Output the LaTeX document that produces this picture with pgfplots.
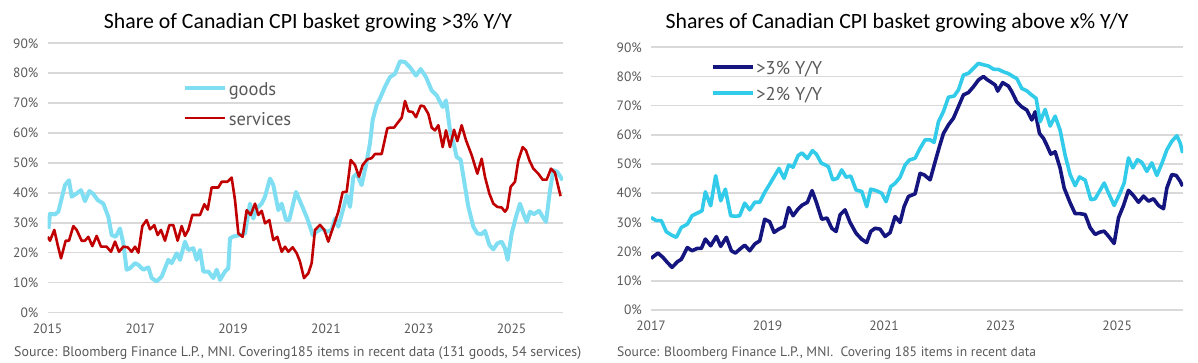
\documentclass[border=0pt]{standalone}
\usepackage{pgfplots}
\pgfplotsset{compat=1.18}
\usepackage{fontspec}
\setmainfont{PT Sans}
\newfontfamily\titlefont{Carlito}
\definecolor{goodsc}{HTML}{80DEF2}
\definecolor{servc}{HTML}{C00000}
\definecolor{navyc}{HTML}{15157F}
\definecolor{cyanc}{HTML}{33CBEA}
\definecolor{gridc}{HTML}{D9D9D9}
\definecolor{textc}{HTML}{595959}
\begin{document}
\begin{tikzpicture}
\useasboundingbox (0pt,0pt) rectangle (1198pt,363pt);
\pgfplotsset{myax/.style={scale only axis, axis line style={draw=none}, tick style={draw=none}, major tick length=0pt,
  ymin=0, ymax=90, ytick={0,10,...,90}, yticklabels={0\%,10\%,20\%,30\%,40\%,50\%,60\%,70\%,80\%,90\%},
  ymajorgrids, grid style={gridc, line width=1.6pt},
  tick label style={font=\fontsize{13.5}{14}\selectfont, text=textc, inner sep=0pt},
  yticklabel style={anchor=east, xshift=-9pt}, xticklabel style={anchor=north, yshift=-11pt},
  legend cell align=left,
  legend image code/.code={\path (0pt,0pt); \draw[##1] (0pt,5pt) -- (40pt,5pt);},
}}
% ---------------- left panel
\begin{axis}[myax, at={(47.5pt,50.5pt)}, anchor=south west, width=515.5pt, height=269.2pt,
  xmin=2015, xmax=2026.11, xtick={2015,2017,2019,2021,2023,2025}, xticklabels={2015,2017,2019,2021,2023,2025},
  legend style={at={(0.262,0.872)}, anchor=north west, draw=none, fill=none, font=\fontsize{18.5}{19}\selectfont, text=textc, inner sep=0pt, nodes={inner sep=2pt, text height=0.75em, text depth=0.25em, minimum height=30pt}}]
\addplot[goodsc, line width=4pt, line join=round] coordinates {
(2015.02,28)(2015.054,33)(2015.162,32.8)(2015.233,33.7)(2015.305,38.1)(2015.377,42.6)(2015.463,44.2)(2015.521,38.7)(2015.629,39.8)(2015.722,40.9)(2015.808,37.2)(2015.902,40.6)(2015.988,39.6)(2016.081,37.6)(2016.203,36.4)(2016.311,32)(2016.383,25.9)(2016.469,25.3)(2016.563,28.1)(2016.634,23.1)(2016.706,14.3)(2016.778,14.8)(2016.886,16.5)(2016.958,15.9)(2017.065,14.3)(2017.173,15.1)(2017.245,11.5)(2017.353,10.4)(2017.461,12)(2017.532,14.8)(2017.604,17.6)(2017.676,16.5)(2017.784,19.8)(2017.856,17.6)(2017.963,23.7)(2018.035,20.9)(2018.143,21.5)(2018.215,17.6)(2018.287,20.9)(2018.358,13.7)(2018.466,13.7)(2018.574,11.5)(2018.646,14.3)(2018.718,10.9)(2018.825,13.7)(2018.897,14.8)(2018.933,24.8)(2019.005,25.4)(2019.149,25.9)(2019.256,26.4)(2019.364,36.4)(2019.436,31.4)(2019.508,34.8)(2019.616,36.4)(2019.687,38.7)(2019.795,44.8)(2019.867,42.6)(2019.975,34.2)(2020.047,36.4)(2020.14,30.9)(2020.21,30.9)(2020.356,40.3)(2020.478,35.9)(2020.6,31.4)(2020.715,25.9)(2020.80,27)(2020.91,28.1)(2021.017,27)(2021.125,27.6)(2021.196,31.4)(2021.268,28.7)(2021.376,34.8)(2021.448,39.2)(2021.52,35.3)(2021.591,45.3)(2021.663,46.4)(2021.77,42.6)(2021.864,49.3)(2021.95,56.6)(2022.008,64.4)(2022.094,69.4)(2022.166,71.6)(2022.274,75.5)(2022.381,78.7)(2022.489,79.8)(2022.597,84)(2022.705,83.7)(2022.812,82)(2022.942,79.2)(2023.042,81.4)(2023.157,78.7)(2023.280,74.2)(2023.387,72.6)(2023.517,68.7)(2023.588,70.9)(2023.675,60.9)(2023.746,57)(2023.818,52)(2023.904,51.1)(2023.976,44.2)(2024.070,35.3)(2024.177,28.7)(2024.264,26.4)(2024.357,26.2)(2024.429,27.3)(2024.522,22.6)(2024.608,21.1)(2024.695,23.1)(2024.788,23.7)(2024.860,21.4)(2024.917,17.6)(2025.004,26.4)(2025.097,32)(2025.183,36.4)(2025.255,33.1)(2025.327,30.3)(2025.399,33.7)(2025.485,32.9)(2025.593,34)(2025.672,32)(2025.744,30.3)(2025.830,40.9)(2025.902,47.6)(2025.988,47)(2026.103,44.2)
};
\addlegendentry{goods}
\addplot[servc, line width=2.6pt, line join=round] coordinates {
(2015.004,25.3)(2015.054,24)(2015.147,27.6)(2015.219,22.6)(2015.291,18.1)(2015.392,24)(2015.463,24)(2015.557,28.9)(2015.629,27.6)(2015.736,24)(2015.808,24)(2015.880,25.3)(2015.966,22.2)(2016.060,25.6)(2016.153,22)(2016.275,22)(2016.369,20.3)(2016.455,23.7)(2016.541,20.3)(2016.634,22)(2016.728,21.8)(2016.814,20.3)(2016.886,22)(2016.958,20)(2017.044,28.9)(2017.137,30.9)(2017.209,27.8)(2017.302,29.2)(2017.374,25.9)(2017.446,27.6)(2017.532,24)(2017.626,29.2)(2017.712,29.2)(2017.805,24)(2017.892,28.9)(2017.963,25.6)(2018.035,27.6)(2018.121,32.6)(2018.287,32.6)(2018.380,36.2)(2018.452,34.4)(2018.538,41.8)(2018.682,41.8)(2018.754,43.7)(2018.876,43.7)(2018.969,45.1)(2019.041,37.6)(2019.113,26.4)(2019.206,25.3)(2019.292,34.2)(2019.378,32.6)(2019.472,36.4)(2019.544,32.6)(2019.616,34)(2019.688,29.8)(2019.781,30.9)(2019.867,24.2)(2019.953,25.3)(2020.047,20.3)(2020.119,22)(2020.190,20.3)(2020.284,21.8)(2020.370,19.8)(2020.442,17)(2020.528,11.5)(2020.621,13.1)(2020.693,16.5)(2020.765,27.6)(2020.873,29.3)(2020.966,27.6)(2021.052,23.7)(2021.160,28.7)(2021.268,33.7)(2021.361,40.2)(2021.448,40.4)(2021.534,51)(2021.627,49.3)(2021.713,45.4)(2021.792,49.3)(2021.893,51.2)(2021.986,51.6)(2022.058,53)(2022.202,53)(2022.324,61.6)(2022.381,61.8)(2022.468,61.8)(2022.561,63.7)(2022.633,65.1)(2022.705,70.7)(2022.777,67.3)(2022.870,67)(2022.942,65.3)(2023.042,69.2)(2023.114,68.9)(2023.208,66.4)(2023.280,61.8)(2023.351,60.9)(2023.423,62.6)(2023.517,55.3)(2023.588,60.9)(2023.675,55.3)(2023.761,61.1)(2023.833,57.3)(2023.926,62.6)(2024.019,57.6)(2024.142,52.6)(2024.264,46.4)(2024.357,51.4)(2024.429,45.3)(2024.522,39.8)(2024.608,36.4)(2024.695,35.3)(2024.788,35.1)(2024.860,33.7)(2024.910,34.8)(2024.982,42)(2025.075,43.7)(2025.147,50.9)(2025.241,55.3)(2025.312,54.2)(2025.384,50.9)(2025.470,48.1)(2025.578,46.4)(2025.672,44.4)(2025.758,44.4)(2025.851,48.1)(2025.937,46.7)(2026.009,42)(2026.057,38.9)
};
\addlegendentry{services}
\end{axis}
% ---------------- right panel
\begin{axis}[myax, at={(651pt,53pt)}, anchor=south west, width=532pt, height=262.7pt,
  xmin=2017, xmax=2026.13, xtick={2017,2019,2021,2023,2025}, xticklabels={2017,2019,2021,2023,2025},
  legend style={at={(0.112,0.957)}, anchor=north west, draw=none, fill=none, font=\fontsize{18.5}{19}\selectfont, text=textc, inner sep=0pt, nodes={inner sep=2pt, text height=0.75em, text depth=0.25em, minimum height=26pt}}]
\addplot[navyc, line width=3.6pt, line join=round] coordinates {
(2017.0,17.7)(2017.120,19.5)(2017.206,18)(2017.280,16.3)(2017.361,14.6)(2017.452,16.5)(2017.521,17.4)(2017.624,21.4)(2017.704,20.3)(2017.795,21.1)(2017.864,21.1)(2017.933,24.3)(2018.024,22)(2018.122,25.2)(2018.196,21.8)(2018.293,24.9)(2018.379,20.3)(2018.448,19.5)(2018.539,21.1)(2018.608,22.2)(2018.694,20.3)(2018.780,22.6)(2018.866,23.7)(2018.951,31.1)(2019.037,30.2)(2019.112,26.6)(2019.192,27.7)(2019.283,28.6)(2019.363,35.1)(2019.438,32.3)(2019.524,34.6)(2019.592,35.9)(2019.684,36.9)(2019.764,40.9)(2019.838,36.9)(2019.93,31.1)(2020.02,31.5)(2020.102,28)(2020.176,26.9)(2020.245,32.6)(2020.330,34.3)(2020.416,30)(2020.519,26.3)(2020.617,24.2)(2020.702,23.1)(2020.771,26.9)(2020.845,28)(2020.931,27.7)(2021.017,25.2)(2021.103,26.5)(2021.189,32)(2021.275,30)(2021.343,35.4)(2021.418,38.9)(2021.532,39.8)(2021.618,46.8)(2021.687,46.3)(2021.790,44.6)(2021.876,50.8)(2021.950,56)(2022.019,60.5)(2022.104,63.4)(2022.190,65.7)(2022.276,69.7)(2022.362,73.7)(2022.448,74.5)(2022.534,76.5)(2022.619,78.8)(2022.705,80)(2022.763,79)(2022.848,77.9)(2022.906,77.1)(2022.95,75)(2023.035,77.9)(2023.134,76.7)(2023.192,74.8)(2023.277,71.3)(2023.363,69.6)(2023.449,68.5)(2023.535,65.1)(2023.592,67.9)(2023.667,60.5)(2023.735,58.8)(2023.792,56.5)(2023.861,53.4)(2023.936,54.2)(2024.021,48.6)(2024.090,41.8)(2024.193,36.7)(2024.279,33)(2024.365,33)(2024.451,32.7)(2024.536,28.2)(2024.622,25.9)(2024.708,26.7)(2024.777,27)(2024.851,25.3)(2024.948,22.8)(2025.023,31.6)(2025.109,35.8)(2025.194,41)(2025.280,39.2)(2025.366,36.9)(2025.452,39)(2025.538,37.3)(2025.624,38.1)(2025.710,35.8)(2025.795,34.7)(2025.853,41.8)(2025.938,46.4)(2026.013,46.1)(2026.082,44.1)(2026.125,42.4)
};
\addlegendentry{>3\% Y/Y}
\addplot[cyanc, line width=3.6pt, line join=round] coordinates {
(2017.0,31.7)(2017.092,30.6)(2017.177,30.6)(2017.263,26.8)(2017.349,25.7)(2017.435,24.9)(2017.521,28.3)(2017.624,29.4)(2017.704,32.3)(2017.795,33.2)(2017.876,34)(2017.933,40.5)(2018.024,35.7)(2018.110,46)(2018.196,37.4)(2018.276,41.4)(2018.368,32.3)(2018.448,32.1)(2018.522,32.3)(2018.608,36.6)(2018.694,34.3)(2018.780,36.9)(2018.866,36.9)(2018.951,40.3)(2019.037,43.1)(2019.123,46)(2019.197,48.5)(2019.283,45.1)(2019.363,49.7)(2019.438,48.9)(2019.524,52.9)(2019.592,53.8)(2019.684,51.9)(2019.770,54.6)(2019.838,53.4)(2019.924,50.3)(2019.99,49.7)(2020.044,49.1)(2020.119,44.6)(2020.199,45.1)(2020.273,48)(2020.348,45.5)(2020.428,45.9)(2020.519,41.1)(2020.617,40.6)(2020.702,35.4)(2020.771,41.4)(2020.863,40.9)(2020.960,40)(2021.034,37.1)(2021.115,42.3)(2021.189,43.4)(2021.275,45.5)(2021.361,49.7)(2021.435,51.4)(2021.532,52)(2021.618,55.4)(2021.704,58.3)(2021.790,58.3)(2021.858,57.4)(2021.933,64.5)(2022.019,68)(2022.104,72.9)(2022.202,73.3)(2022.276,75.4)(2022.362,80.5)(2022.448,81.1)(2022.534,82.8)(2022.619,84.5)(2022.705,84)(2022.791,83.6)(2022.877,82.5)(2022.963,82.4)(2023.049,81.6)(2023.134,81)(2023.220,79.9)(2023.277,79.3)(2023.363,75.9)(2023.449,75.1)(2023.535,73.6)(2023.609,72.5)(2023.678,64.5)(2023.764,68.7)(2023.850,63)(2023.936,66.4)(2024.021,61.6)(2024.107,53)(2024.193,46.4)(2024.279,42.6)(2024.353,45.6)(2024.451,44.5)(2024.548,37.8)(2024.622,38.1)(2024.697,40.7)(2024.777,43.5)(2024.851,40.1)(2024.948,35.8)(2025.040,39.6)(2025.120,43.5)(2025.194,52.1)(2025.269,48.7)(2025.349,51.5)(2025.423,50.6)(2025.509,47.5)(2025.595,50.4)(2025.681,46.1)(2025.767,50.2)(2025.853,54.9)(2025.938,57.8)(2026.024,59.7)(2026.082,57.2)(2026.125,53.8)
};
\addlegendentry{>2\% Y/Y}
\end{axis}
% ---------------- titles and notes
\node[anchor=base, font=\titlefont\fontsize{21.8}{24}\selectfont] at (308pt,334pt) {Share of Canadian CPI basket growing >3\% Y/Y};
\node[anchor=base, font=\titlefont\fontsize{21.8}{24}\selectfont] at (897pt,334pt) {Shares of Canadian CPI basket growing above x\% Y/Y};
\node[anchor=base west, inner sep=0pt, text=textc, font=\fontsize{13.9}{15}\selectfont] at (14pt,6pt) {Source: Bloomberg Finance L.P., MNI. Covering185 items in recent data (131 goods, 54 services)};
\node[anchor=base west, inner sep=0pt, text=textc, font=\fontsize{13.6}{15}\selectfont] at (617pt,6pt) {Source: Bloomberg Finance L.P., MNI.\ \ Covering 185 items in recent data};
\end{tikzpicture}
\end{document}
